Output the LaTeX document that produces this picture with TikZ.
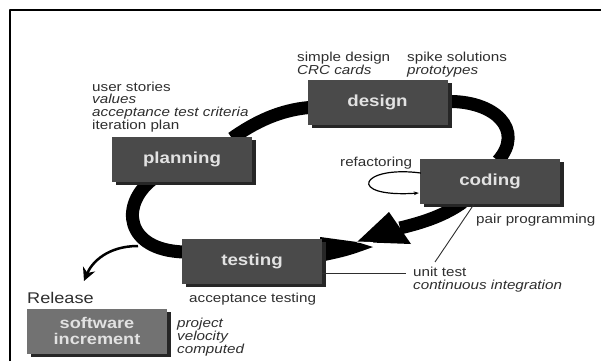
\documentclass[tikz,border=0pt]{standalone}
\usepackage{fontspec}
\setmainfont{Liberation Sans}[FakeStretch=1.17]
\usetikzlibrary{calc,shadows,backgrounds,arrows.meta}
\definecolor{boxgray}{HTML}{4A4A4A}
\definecolor{incgray}{HTML}{727272}
\definecolor{shadowgray}{HTML}{262626}
\definecolor{boxtext}{HTML}{E2E2E2}
\definecolor{notegray}{HTML}{2E2E2E}
\newcommand\lbl{\fontsize{13}{12.6}\selectfont}
\tikzset{
  phase/.style={fill=boxgray, text=boxtext, minimum width=140pt, minimum height=45pt, inner sep=0pt,
    font=\fontsize{16}{18}\selectfont\bfseries,
    drop shadow={shadow xshift=4pt, shadow yshift=-3pt, fill=shadowgray, opacity=1}},
  note/.style={anchor=base west, inner sep=0pt, align=left, text=notegray, font=\lbl},
  band/.style={line width=13pt, black},
  leader/.style={line width=0.9pt, notegray}
}
\begin{document}
\begin{tikzpicture}[x=1pt, y=-1pt, line join=round]
\useasboundingbox (0,0) rectangle (601,361);
% khung
\draw[line width=2pt] (10,361) -- (10,10) -- (601,10);

% cac buoc
\node[phase] (planning) at (182,159) {planning};
\node[phase] (design) at (377.5,102.5) {design};
\node[phase] (coding) at (490,181.5) {coding};
\node[phase] (testing) at (252,261) {testing};
\node[phase, fill=incgray, align=center, font=\fontsize{15.5}{16}\selectfont\bfseries] (increment) at (97,331) {software\\increment};

% ghi chu (goc o dong cuoi)
\node[note] (stories) at (92,129) {user stories\\\textit{values}\\\textit{acceptance test criteria}\\iteration plan};
\node[note] (simple) at (297,74) {simple design\\\textit{CRC cards}};
\node[note] (spike) at (407,74) {spike solutions\\\textit{prototypes}};
\node[note] (refactor) at (340,166) {refactoring};
\node[note] (pair) at (476,223) {pair programming};
\node[note] (unit) at (413,289) {unit test\\\textit{continuous integration}};
\node[note] (accept) at (189,302) {acceptance testing};
\node[note, font=\fontsize{15.5}{16}\selectfont] (release) at (27,303) {Release};
\node[note] (velocity) at (177,353) {\textit{project}\\\textit{velocity}\\\textit{computed}};

% vong lap
\begin{scope}[on background layer]
  \draw[band] ($(planning.north)+(50,2)$) .. controls (255,122) and (280,110) .. ($(design.west)+(2,5)$);
  \draw[band] ($(design.east)+(-2,-1)$) .. controls (495,100) and (525,130) .. ($(coding.north)+(8,2)$);
  \coordinate (base) at (400,228);
  \draw[band] ($(coding.south)+(-27,-2)$) .. controls (445,215) and (425,222) .. (base);
  \draw[band] ($(planning.south)+(-30,-2)$) .. controls (120,205) and (125,250) .. ($(testing.west)+(2,-9)$);
  % mui ten lon
  \coordinate (tip) at (357,242);
  \coordinate (hl) at (389,212);
  \coordinate (hr) at (411,244);
  \fill ($(testing.east)+(-2,-24)$) -- (tip) -- (373,247) .. controls (348,256) .. ($(testing.east)+(-2,1)$) -- cycle;
  \fill (tip) -- (hl) -- (hr) -- cycle;
  \draw[white, line width=1pt] (tip) -- ($(tip)!0.3!(hr)$);
\end{scope}

% release
\coordinate (rel) at (138,246);
\coordinate (reltip) at (84,281);
\draw[line width=2.5pt, -{Stealth[length=13pt, width=13pt]}] (rel) .. controls (108,246) and (92,262) .. (reltip);

% refactoring
\draw[line width=1.2pt, -{Stealth[length=5pt]}] ($(coding.west)+(1,-8.5)$) .. controls (360,165) and (345,198) .. ($(coding.west)+(-1,11.5)$);

% duong chi
\draw[leader] ($(testing.east)+(0,12)$) -- ($(unit.base west)+(-7,-16)$);
\draw[leader] ($(unit.base west)+(22,-27)$) -- ($(coding.south)+(-16,0)$);
\end{tikzpicture}
\end{document}
